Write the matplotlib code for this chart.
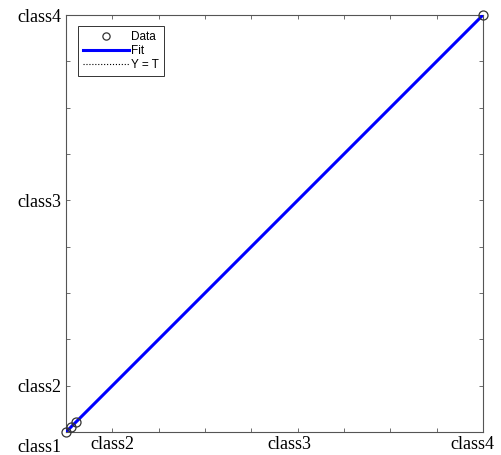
import matplotlib.pyplot as plt
from matplotlib.transforms import ScaledTranslation

# class positions on the axis (tick units) and their names
tick_pos = [0, 1, 5, 9]
class_names = ['class1', 'class2', 'class3', 'class4']
minor_pos = [2, 3, 4, 6, 7, 8]

# targets vs outputs
targets = [0, 0.1, 0.22, 9]
outputs = [0, 0.1, 0.22, 9]

# fitted line and identity line
fit_x = [0, 9]
fit_y = [0, 9]

fig = plt.figure(figsize=(5.01, 4.55), dpi=100)
ax = fig.add_axes([66 / 501, 23 / 455, 417 / 501, 417 / 455])

ax.plot(fit_x, fit_y, ':', color='k', lw=0.8, label='Y = T', zorder=2)
ax.plot(fit_x, fit_y, '-', color='#0000ff', lw=2.2, label='Fit', zorder=3)
ax.plot(targets, outputs, 'o', mfc='none', mec='#333333', ms=6.5, mew=0.9,
        label='Data', clip_on=False, zorder=4)

ax.set_xlim(0, 9)
ax.set_ylim(0, 9)

ax.set_xticks(tick_pos)
ax.set_xticklabels([''] + class_names[1:])
ax.set_yticks(tick_pos)
ax.set_yticklabels(class_names)
ax.set_xticks(minor_pos, minor=True)
ax.set_yticks(minor_pos, minor=True)

for lab in ax.get_xticklabels() + ax.get_yticklabels():
    lab.set_fontfamily('Liberation Serif')
    lab.set_fontsize(13)

ax.tick_params(which='both', direction='in', length=3, width=0.6,
               color='#555555', top=True, right=True, pad=3)
for sp in ax.spines.values():
    sp.set_color('#555555')
    sp.set_linewidth(0.8)

# nudge a few labels so they stay inside the figure
xl = ax.get_xticklabels()
xl[2].set_transform(xl[2].get_transform() + ScaledTranslation(-8 / 100, 0, fig.dpi_scale_trans))
xl[3].set_transform(xl[3].get_transform() + ScaledTranslation(-11 / 100, 0, fig.dpi_scale_trans))
yl = ax.get_yticklabels()
yl[0].set_transform(yl[0].get_transform() + ScaledTranslation(0, -13 / 100, fig.dpi_scale_trans))

h, l = ax.get_legend_handles_labels()
order = [2, 1, 0]
leg = ax.legend([h[i] for i in order], [l[i] for i in order], loc='upper left',
                bbox_to_anchor=(12 / 417, 1 - 11 / 417), fancybox=False,
                framealpha=1, edgecolor='#333333',
                prop={'family': 'Liberation Sans', 'size': 8.5},
                handlelength=3.9, labelspacing=0.2, borderpad=0.4,
                handletextpad=0.2, borderaxespad=0, markerscale=0.8)
leg.get_frame().set_linewidth(0.7)

fig.savefig('out.png', dpi=100)
